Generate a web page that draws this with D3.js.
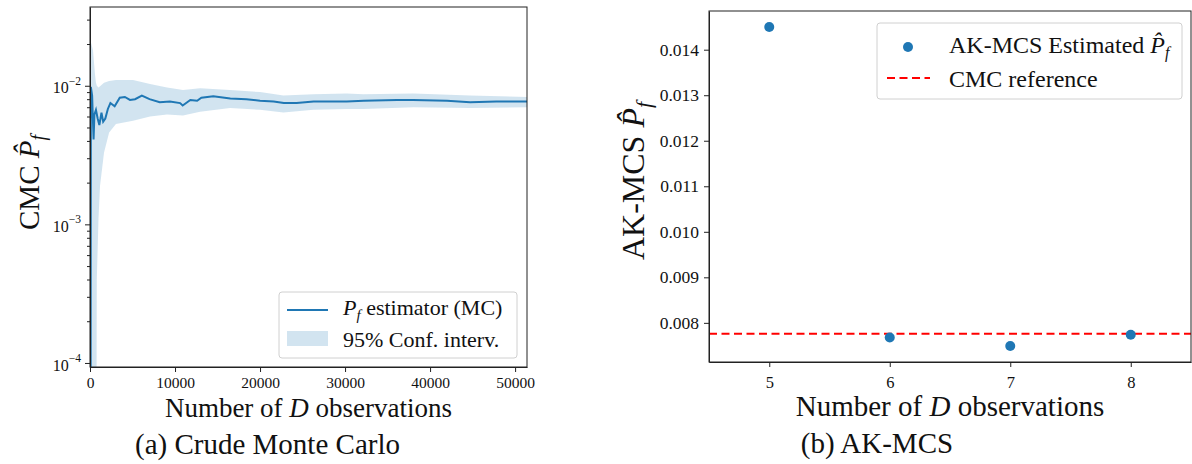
<!DOCTYPE html>
<html><head><meta charset="utf-8">
<script src="https://cdn.jsdelivr.net/npm/d3@7"></script>
<style>
body{margin:0;background:#fff}
svg text{font-family:"Liberation Serif","Times New Roman",serif;fill:#111}
</style>
</head><body>
<svg id="c" width="1192" height="464" font-family="Liberation Serif, serif"></svg>
<script>
// ---------- data: (a) Crude Monte Carlo ----------
const cmcN  = [0, 60, 100, 250, 330, 420, 520, 700, 900, 1100, 1350, 1550, 1800, 2100, 2400, 2900, 3500, 4100, 4700, 5300, 6100, 7000, 8200, 9400, 10600, 10900, 11800, 12600, 13100, 14500, 16500, 18400, 20000, 21600, 22800, 24300, 26300, 28200, 30200, 32200, 36100, 38000, 42000, 44700, 47800, 51400];
const cmcPf = [1e-6, 1e-6, 0.0098, 0.0085, 0.0060, 0.0041, 0.0062, 0.0067, 0.0058, 0.0052, 0.0064, 0.0055, 0.0058, 0.0068, 0.0075, 0.0071, 0.0082, 0.0083, 0.0079, 0.0080, 0.0085, 0.0080, 0.0076, 0.0077, 0.0075, 0.0072, 0.0079, 0.0078, 0.0082, 0.0084, 0.0081, 0.0080, 0.0078, 0.0077, 0.0075, 0.0075, 0.0077, 0.0077, 0.0077, 0.0078, 0.0079, 0.0079, 0.0078, 0.0076, 0.0077, 0.0077];
const bandN    = [0, 120, 350, 590, 700, 800, 1000, 1180, 1650, 2250, 3050, 5060, 7060, 9060, 10940, 12940, 16470, 20000, 22750, 26270, 30200, 32160, 38040, 44700, 51400];
const bandLow  = [1e-6, 1e-6, 1e-6, 1e-6, 1e-6, 0.0004, 0.0011, 0.0019, 0.0033, 0.0046, 0.0053, 0.0056, 0.0060, 0.0062, 0.0061, 0.0065, 0.0069, 0.0067, 0.0064, 0.0067, 0.0068, 0.0068, 0.0070, 0.0069, 0.0070];
const bandHigh = [0.0204, 0.0204, 0.0180, 0.0120, 0.0105, 0.0100, 0.0097, 0.0099, 0.0105, 0.0108, 0.0110, 0.0110, 0.0103, 0.0097, 0.0093, 0.0096, 0.0093, 0.0090, 0.0085, 0.0087, 0.0088, 0.0087, 0.0088, 0.0085, 0.0083];
const leftXTicks = [0, 10000, 20000, 30000, 40000, 50000];
const leftYTicks = [1e-4, 1e-3, 1e-2];
const leftYMinor = [2e-4,3e-4,4e-4,5e-4,6e-4,7e-4,8e-4,9e-4,2e-3,3e-3,4e-3,5e-3,6e-3,7e-3,8e-3,9e-3,2e-2,3e-2];

// ---------- data: (b) AK-MCS ----------
const akObs = [5, 6, 7, 8];
const akPf  = [0.01450, 0.00768, 0.00749, 0.00774];
const cmcRef = 0.00776;
const rightXTicks = [5, 6, 7, 8];
const rightYTicks = [0.008, 0.009, 0.010, 0.011, 0.012, 0.013, 0.014];

const blue = "#1f77b4";
const FONT = '"Liberation Serif","Times New Roman",serif';
const svg = d3.select("#c");
const defs = svg.append("defs");

function pHat(t, size, subSize){
  t.append("tspan").attr("font-style","italic").text("P\u0302");
  t.append("tspan").attr("font-style","italic").attr("font-size",subSize).attr("dy",size*0.22).text("f");
}
function styleAxis(g, fs){
  g.attr("font-family", null).attr("font-size", null);
  g.selectAll("text").style("font-family", FONT).attr("font-size", fs).attr("fill","#111");
}

// ================= LEFT PANEL =================
const L = {x0:90, x1:527, y0:7, y1:367};
const xL = d3.scaleLinear([0, 51400], [L.x0, L.x1]);
const yL = d3.scaleLog([9.35e-5, 0.037], [L.y1, L.y0]);
defs.append("clipPath").attr("id","clipL").append("rect")
  .attr("x",L.x0).attr("y",L.y0).attr("width",L.x1-L.x0).attr("height",L.y1-L.y0);
const gL = svg.append("g");
const idxB = d3.range(bandN.length);
gL.append("path").attr("clip-path","url(#clipL)")
  .attr("d", d3.area().x(i=>xL(bandN[i])).y0(i=>yL(bandLow[i])).y1(i=>yL(bandHigh[i]))(idxB))
  .attr("fill", blue).attr("fill-opacity",0.2);
const idxL = d3.range(cmcN.length);
gL.append("path").attr("clip-path","url(#clipL)")
  .attr("d", d3.line().x(i=>xL(cmcN[i])).y(i=>yL(cmcPf[i]))(idxL))
  .attr("fill","none").attr("stroke",blue).attr("stroke-width",2);

const axL = gL.append("g").attr("transform",`translate(0,${L.y1})`)
  .call(d3.axisBottom(xL).tickValues(leftXTicks).tickFormat(d3.format("d")).tickSize(5).tickPadding(5).tickSizeOuter(0));
styleAxis(axL, 15.5);
const ayL = gL.append("g").attr("transform",`translate(${L.x0},0)`)
  .call(d3.axisLeft(yL).tickValues(leftYTicks).tickSize(5).tickPadding(4).tickSizeOuter(0).tickFormat(""));
styleAxis(ayL, 16);
ayL.selectAll(".tick text").each(function(d){
  const t = d3.select(this);
  const e = Math.round(Math.log10(d));
  t.attr("dy","0.45em");
  t.append("tspan").text("10");
  t.append("tspan").attr("font-size",11.5).attr("dy","-0.75em").text("\u2212"+Math.abs(e));
});
gL.append("g").attr("transform",`translate(${L.x0},0)`)
  .call(d3.axisLeft(yL).tickValues(leftYMinor).tickSize(3).tickFormat("").tickSizeOuter(0))
  .select(".domain").remove();
gL.append("rect").attr("x",L.x0).attr("y",L.y0).attr("width",L.x1-L.x0).attr("height",L.y1-L.y0)
  .attr("fill","none").attr("stroke","#222").attr("stroke-width",1);

const lg = gL.append("g");
lg.append("rect").attr("x",279).attr("y",292).attr("width",238).attr("height",66).attr("rx",3)
  .attr("fill","#fff").attr("fill-opacity",0.8).attr("stroke","#d0d0d0");
lg.append("line").attr("x1",287).attr("x2",328).attr("y1",310).attr("y2",310).attr("stroke",blue).attr("stroke-width",2);
lg.append("rect").attr("x",287).attr("y",331).attr("width",41).attr("height",15).attr("fill",blue).attr("fill-opacity",0.2);
const lt1 = lg.append("text").attr("x",343).attr("y",315).attr("font-size",22);
lt1.append("tspan").attr("font-style","italic").text("P");
lt1.append("tspan").attr("font-style","italic").attr("font-size",15).attr("dy",5).text("f");
lt1.append("tspan").attr("dy",-5).text(" estimator (MC)");
lg.append("text").attr("x",343).attr("y",347).attr("font-size",22).text("95% Conf. interv.");

const xl = gL.append("text").attr("x",308.5).attr("y",417).attr("text-anchor","middle").attr("font-size",27);
xl.append("tspan").text("Number of ");
xl.append("tspan").attr("font-style","italic").text("D");
xl.append("tspan").text(" observations");
const yl = gL.append("text").attr("transform","translate(39,182.5) rotate(-90)").attr("text-anchor","middle").attr("font-size",29);
yl.append("tspan").text("CMC ");
pHat(yl, 29, 20);
gL.append("text").attr("x",267.5).attr("y",454).attr("text-anchor","middle").attr("font-size",29).text("(a) Crude Monte Carlo");

// ================= RIGHT PANEL =================
const R = {x0:709, x1:1191, y0:11, y1:362};
const xR = d3.scaleLinear([4.5, 8.5], [R.x0, R.x1]);
const yR = d3.scaleLinear([0.00714, 0.01485], [R.y1, R.y0]);
defs.append("clipPath").attr("id","clipR").append("rect")
  .attr("x",R.x0).attr("y",R.y0).attr("width",R.x1-R.x0).attr("height",R.y1-R.y0);
const gR = svg.append("g");
gR.append("line").attr("clip-path","url(#clipR)")
  .attr("x1",R.x0).attr("x2",R.x1).attr("y1",yR(cmcRef)).attr("y2",yR(cmcRef))
  .attr("stroke","#ff0000").attr("stroke-width",2).attr("stroke-dasharray","8,4.5");
gR.selectAll("circle.pt").data(akObs).join("circle").attr("class","pt")
  .attr("cx",(d)=>xR(d)).attr("cy",(d,i)=>yR(akPf[i])).attr("r",5).attr("fill",blue);

const axR = gR.append("g").attr("transform",`translate(0,${R.y1})`)
  .call(d3.axisBottom(xR).tickValues(rightXTicks).tickFormat(d3.format("d")).tickSize(5).tickPadding(9).tickSizeOuter(0));
styleAxis(axR, 16.5);
const ayR = gR.append("g").attr("transform",`translate(${R.x0},0)`)
  .call(d3.axisLeft(yR).tickValues(rightYTicks).tickFormat(d3.format(".3f")).tickSize(5).tickPadding(5).tickSizeOuter(0));
styleAxis(ayR, 17.5);
gR.append("rect").attr("x",R.x0).attr("y",R.y0).attr("width",R.x1-R.x0).attr("height",R.y1-R.y0)
  .attr("fill","none").attr("stroke","#222").attr("stroke-width",1);

const rg = gR.append("g");
rg.append("rect").attr("x",877).attr("y",23).attr("width",305).attr("height",76).attr("rx",3)
  .attr("fill","#fff").attr("fill-opacity",0.8).attr("stroke","#d0d0d0");
rg.append("circle").attr("cx",908).attr("cy",47).attr("r",5).attr("fill",blue);
rg.append("line").attr("x1",887).attr("x2",930).attr("y1",78).attr("y2",78)
  .attr("stroke","#ff0000").attr("stroke-width",2).attr("stroke-dasharray","8,4.5");
const rt1 = rg.append("text").attr("x",949).attr("y",53).attr("font-size",24);
rt1.append("tspan").text("AK-MCS Estimated ");
pHat(rt1, 24, 16);
rg.append("text").attr("x",949).attr("y",87).attr("font-size",24).text("CMC reference");

const xr = gR.append("text").attr("x",950).attr("y",416).attr("text-anchor","middle").attr("font-size",29);
xr.append("tspan").text("Number of ");
xr.append("tspan").attr("font-style","italic").text("D");
xr.append("tspan").text(" observations");
const yr = gR.append("text").attr("transform","translate(644,181) rotate(-90)").attr("text-anchor","middle").attr("font-size",32);
yr.append("tspan").text("AK-MCS ");
pHat(yr, 32, 22);
gR.append("text").attr("x",877).attr("y",453).attr("text-anchor","middle").attr("font-size",29).text("(b) AK-MCS");

svg.selectAll(".domain").attr("stroke","#222");
svg.selectAll(".tick line").attr("stroke","#222");
</script>
</body></html>
